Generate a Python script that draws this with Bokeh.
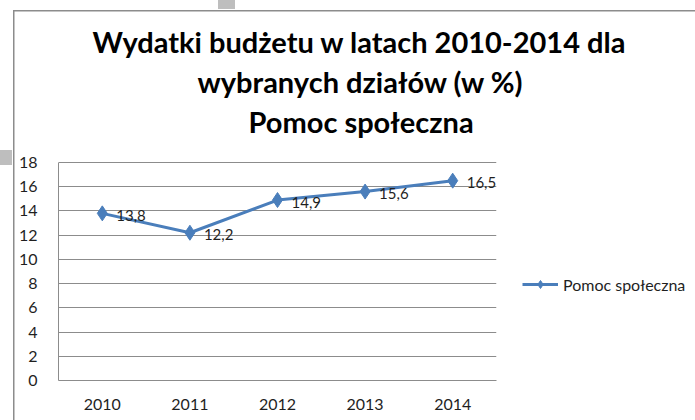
from bokeh.plotting import figure
from bokeh.models import (ColumnDataSource, LabelSet, Legend, LegendItem,
                          FixedTicker, Title)
from bokeh.core.properties import value
from bokeh.embed import file_html
from bokeh.resources import INLINE

# ---- data ----
years = ["2010", "2011", "2012", "2013", "2014"]
values = [13.8, 12.2, 14.9, 15.6, 16.5]
value_labels = ["13,8", "12,2", "14,9", "15,6", "16,5"]
y_ticks = [0, 2, 4, 6, 8, 10, 12, 14, 16, 18]
y_max = 18
series_name = "Pomoc społeczna"
title_lines = ["Wydatki budżetu w latach 2010-2014 dla",
               "wybranych działów (w %)",
               "Pomoc społeczna"]

FONT = "Lato"
BLUE = "#4A7EBB"
GRID = "#8C8C8C"
TXT = "#1F1F1F"

# plot area: 218 px for 0..18, plus 22 px of empty room above 18
PLOT_H = 218
GAP = 22
y_top = y_max * (PLOT_H + GAP) / PLOT_H

src = ColumnDataSource(dict(x=years, y=values, lab=value_labels))

p = figure(frame_width=438, frame_height=PLOT_H + GAP, x_range=years,
           y_range=(0, y_top),
           output_backend="svg", toolbar_location=None,
           min_border_left=58, min_border_right=199,
           min_border_top=162 - GAP, min_border_bottom=40)
p.outline_line_color = None
p.background_fill_color = "white"
p.border_fill_color = None
p.styles = {
    "background":
        "linear-gradient(#BEBEBE,#BEBEBE) 218px 0px / 17px 9px no-repeat, "
        "linear-gradient(#BEBEBE,#BEBEBE) 0px 150px / 12px 15px no-repeat, "
        "linear-gradient(#8C8C8C,#8C8C8C) 13px 10px / 1.5px 100% no-repeat, "
        "linear-gradient(#8C8C8C,#8C8C8C) 13px 10px / 100% 1.5px no-repeat, white"
}

# axes
p.yaxis.ticker = FixedTicker(ticks=y_ticks)
p.yaxis.bounds = (0, y_max)
p.ygrid.ticker = FixedTicker(ticks=y_ticks)
for ax in (p.xaxis, p.yaxis):
    ax.axis_line_color = GRID
    ax.axis_line_width = 1
    ax.major_tick_line_color = None
    ax.minor_tick_line_color = None
    ax.major_label_text_font = FONT
    ax.major_label_text_font_size = "16px"
    ax.major_label_text_color = TXT
p.yaxis.major_label_standoff = 15
p.xaxis.major_label_standoff = 12
p.xgrid.grid_line_color = None
p.ygrid.grid_line_color = GRID
p.ygrid.grid_line_width = 1

# series
p.line("x", "y", source=src, line_color=BLUE, line_width=3)
p.scatter("x", "y", source=src, marker="diamond", size=15,
          fill_color=BLUE, line_color=BLUE)

p.add_layout(LabelSet(x="x", y="y", text="lab", source=src,
                      x_offset=14, y_offset=-2, text_align="left",
                      text_baseline="middle", text_font=value(FONT),
                      text_font_size="15px", text_color=TXT))

# legend (separate renderers with no visible points so the legend marker is smaller)
nan = float("nan")
lg_src = ColumnDataSource(dict(x=[years[0]], y=[nan]))
lg_line = p.line("x", "y", source=lg_src, line_color=BLUE, line_width=3)
lg_mark = p.scatter("x", "y", source=lg_src, marker="diamond", size=11,
                    fill_color=BLUE, line_color=BLUE)
leg = Legend(items=[LegendItem(label=series_name, renderers=[lg_line, lg_mark])],
             location=(26, 86), glyph_width=36, glyph_height=20,
             label_standoff=5, padding=0, margin=0, spacing=0,
             border_line_color=None, background_fill_alpha=0,
             label_text_font=FONT, label_text_font_size="16px",
             label_text_color=TXT)
p.add_layout(leg, "right")

# title: three lines stacked above the plot (first added = closest to plot)
for line, off in zip(reversed(title_lines), [190, 139, 34]):
    p.add_layout(Title(text=line, align="left", offset=off, standoff=3,
                       text_font=FONT, text_font_style="bold",
                       text_font_size="29px", text_color="black"), "above")

open("out.html", "w").write(file_html(p, INLINE))
